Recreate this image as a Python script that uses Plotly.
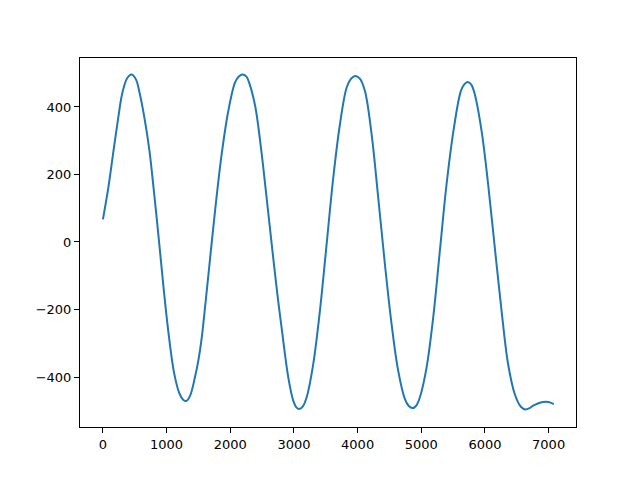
import plotly.graph_objects as go

x_vals = [0, 85, 166, 242, 290, 330, 380, 452, 520, 571, 650, 729, 800, 882, 960, 1040,
          1120, 1200, 1260, 1310, 1370, 1446, 1500, 1551, 1600, 1655, 1761, 1865, 1969,
          2074, 2134, 2194, 2254, 2300, 2392, 2486, 2560, 2650, 2740, 2807, 2911, 2989,
          3035, 3083, 3140, 3200, 3303, 3408, 3513, 3618, 3722, 3827, 3895, 3958, 4035,
          4115, 4220, 4324, 4429, 4534, 4637, 4742, 4800, 4863, 4920, 4978, 5083, 5187,
          5292, 5397, 5510, 5620, 5675, 5727, 5785, 5841, 5947, 6050, 6155, 6261, 6364,
          6469, 6564, 6637, 6700, 6757, 6889, 6992, 7082]
y_vals = [67, 161, 270, 370, 428, 460, 485, 496, 481, 446, 370, 273, 152, 0, -150, -285,
          -390, -448, -467, -471, -455, -400, -350, -285, -200, -100, 92, 260, 388,
          472, 490, 496, 490, 470, 402, 273, 150, -5, -155, -255, -401, -470,
          -489, -495, -487, -460, -362, -204, -7, 191, 348, 457, 483, 492, 484,
          447, 319, 131, -66, -244, -381, -465, -485, -492, -485, -460, -372, -224,
          -26, 171, 335, 446, 467, 474, 466, 437, 329, 171, -17, -204, -362,
          -451, -488, -496, -492, -485, -475, -474, -480]

x_ticks = [0, 1000, 2000, 3000, 4000, 5000, 6000, 7000]
y_ticks = [-400, -200, 0, 200, 400]

fig = go.Figure()
fig.add_trace(go.Scatter(x=x_vals, y=y_vals, mode="lines",
                         line=dict(color="#1f77b4", width=2, shape="spline", smoothing=1.0),
                         showlegend=False, hoverinfo="skip"))

axis_common = dict(showline=True, linecolor="black", linewidth=1, mirror=True,
                   ticks="outside", ticklen=5, tickwidth=1, tickcolor="black",
                   showgrid=False, zeroline=False,
                   tickfont=dict(family="DejaVu Sans", size=13, color="black"))

fig.update_layout(
    width=640, height=480,
    margin=dict(l=72, r=72, t=50, b=61),
    paper_bgcolor="white", plot_bgcolor="white",
    xaxis=dict(range=[-360, 7430], tickvals=x_ticks, **axis_common),
    yaxis=dict(range=[-548, 545], tickvals=y_ticks, **axis_common),
)

fig.write_html("out.html")
